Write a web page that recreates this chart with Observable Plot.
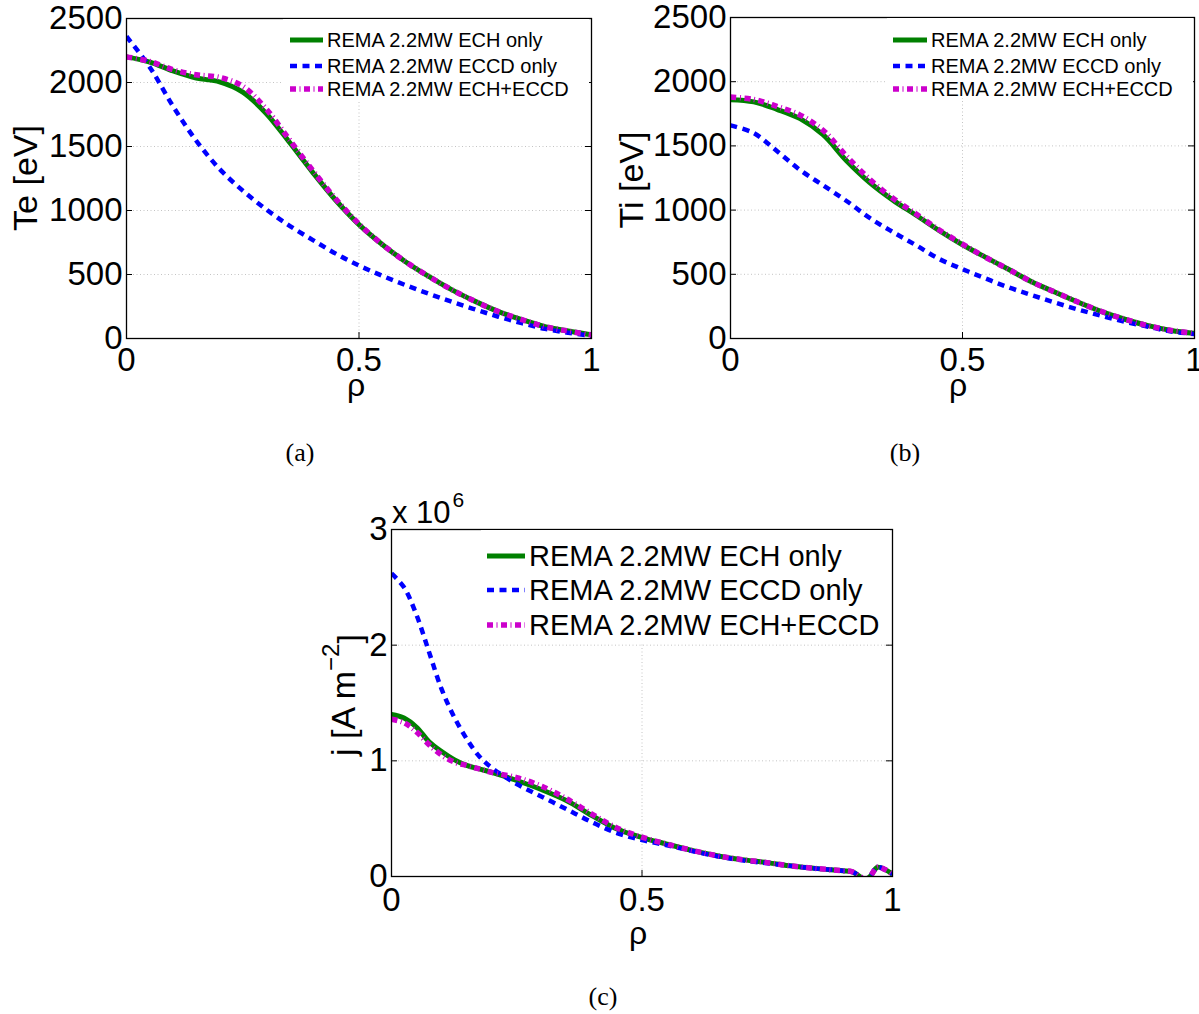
<!DOCTYPE html>
<html><head><meta charset="utf-8">
<script src="https://cdn.jsdelivr.net/npm/d3@7"></script>
<script src="https://cdn.jsdelivr.net/npm/@observablehq/plot@0.6"></script>
<style>
body{margin:0;background:#fff;}
#wrap{position:relative;width:1199px;height:1014px;overflow:hidden;background:#fff;}
.panel{position:absolute;}
.cap{position:absolute;font-family:"Liberation Serif","DejaVu Serif",serif;font-size:26px;transform:translate(-50%,-50%);line-height:1;}
</style></head><body><div id="wrap"></div>
<script>
// ---- data ----
const seriesNames = ["REMA 2.2MW ECH only", "REMA 2.2MW ECCD only", "REMA 2.2MW ECH+ECCD"];
const rhoAB = [0,0.05,0.1,0.15,0.2,0.25,0.3,0.35,0.4,0.45,0.5,0.55,0.6,0.65,0.7,0.75,0.8,0.85,0.9,0.95,1];
const teECH  = [2200,2160,2090,2035,2005,1925,1760,1535,1300,1080,890,735,600,485,380,290,210,148,92,58,28];
const teECCD = [2360,2120,1815,1545,1325,1155,1010,882,771,663,570,490,417,350,286,227,170,120,75,45,20];
const teBoth = [2200,2165,2100,2060,2040,1970,1795,1555,1315,1090,895,735,600,485,380,290,210,148,92,58,28];
const tiECH  = [1860,1843,1785,1712,1585,1385,1215,1078,960,840,730,632,537,440,360,282,210,150,100,63,40];
const tiECCD = [1660,1600,1460,1312,1192,1071,939,829,726,619,540,467,397,337,279,225,176,131,92,55,35];
const tiBoth = [1880,1862,1808,1740,1620,1420,1240,1092,970,845,735,632,537,440,360,282,210,150,100,63,40];
const rhoJ = [0,0.025,0.05,0.075,0.1,0.125,0.15,0.175,0.2,0.25,0.3,0.35,0.4,0.45,0.5,0.55,0.6,0.65,0.7,0.75,0.8,0.85,0.9,0.92,0.935,0.945,0.955,0.97,0.985,1];
const jECH  = [1.40,1.37,1.29,1.165,1.08,1.01,0.96,0.93,0.90,0.83,0.75,0.655,0.527,0.41,0.337,0.28,0.226,0.18,0.146,0.12,0.09,0.068,0.05,0.04,0.0,-0.03,0.0,0.08,0.06,0.02];
const jECCD = [2.62,2.50,2.26,1.94,1.62,1.38,1.19,1.04,0.94,0.80,0.69,0.58,0.47,0.375,0.315,0.27,0.22,0.175,0.14,0.115,0.09,0.068,0.05,0.04,0.0,-0.03,0.0,0.08,0.06,0.02];
const jBoth = [1.36,1.33,1.25,1.14,1.05,0.99,0.96,0.93,0.90,0.855,0.78,0.67,0.54,0.42,0.34,0.28,0.226,0.18,0.146,0.12,0.09,0.068,0.05,0.04,0.0,-0.03,0.0,0.08,0.06,0.02];
const xTicks = [0, 0.5, 1];
const teTicks = [0,500,1000,1500,2000,2500];
const jTicks = [0,1,2,3];

// ---- styles ----
const FONT = "'Liberation Sans', Arial, Helvetica, sans-serif";
const lineStyles = [
  {stroke: "#008000", strokeWidth: 5, strokeDasharray: null},
  {stroke: "#0000ff", strokeWidth: 4.5, strokeDasharray: "7,5.5"},
  {stroke: "#cc00cc", strokeWidth: 5.5, strokeDasharray: "6,3.5,1,3.5"}
];
const wrap = document.getElementById("wrap");

function panel(o) {
  const m = o.margin;
  const iw = o.width - m.left - m.right, ih = o.height - m.top - m.bottom;
  const lines = o.series.map((s, k) => Plot.line(
    s.y.map((v, i) => ({x: s.x[i], y: v})),
    {x: "x", y: "y", ...Object.fromEntries(Object.entries(lineStyles[k]).filter(([, v]) => v != null)),
     strokeLinecap: "butt", curve: "catmull-rom", clip: true}));
  const gridStyle = {stroke: "#c4c4c4", strokeOpacity: 1, strokeDasharray: "1,2.5"};
  const svg = Plot.plot({
    width: o.width, height: o.height,
    marginLeft: m.left, marginRight: m.right, marginTop: m.top, marginBottom: m.bottom,
    x: {domain: [0, 1]}, y: {domain: o.yDomain},
    style: `font-family:${FONT};font-size:33px;overflow:visible;background:transparent;color:black;`,
    marks: [
      Plot.gridX([0.5], gridStyle),
      Plot.gridY(o.yTicks.slice(1, -1), gridStyle),
      ...lines,
      Plot.tickY(o.yTicks, {y: d => d, insetRight: iw - 6, stroke: "black"}),
      Plot.tickY(o.yTicks, {y: d => d, insetLeft: iw - 6, stroke: "black"}),
      Plot.tickX(xTicks, {x: d => d, insetTop: ih - 6, stroke: "black"}),
      Plot.tickX(xTicks, {x: d => d, insetBottom: ih - 6, stroke: "black"}),
      Plot.axisX(xTicks, {tickSize: 0, tickPadding: o.xPad, label: null, tickFormat: d => String(d)}),
      Plot.axisY(o.yTicks, {tickSize: 0, tickPadding: 4, label: null, tickFormat: d => String(d)}),
      Plot.frame({stroke: "black", strokeWidth: 1.3})
    ]
  });
  svg.classList.add("panel");
  svg.style.left = o.left + "px";
  svg.style.top = o.top + "px";
  const s = d3.select(svg);
  // legend
  const L = o.legend;
  s.append("rect").attr("x", L.box[0]).attr("y", L.box[1]).attr("width", L.box[2]).attr("height", L.box[3]).attr("fill", "white");
  seriesNames.forEach((name, k) => {
    const y = L.rows[k];
    const st = lineStyles[k];
    s.append("line").attr("x1", L.x0).attr("x2", L.x1).attr("y1", y).attr("y2", y)
      .attr("stroke", st.stroke).attr("stroke-width", st.strokeWidth)
      .attr("stroke-dasharray", st.strokeDasharray);
    s.append("text").attr("x", L.tx).attr("y", y).attr("dy", "0.36em").attr("text-anchor", "start")
      .attr("font-size", L.fs).attr("font-family", FONT).attr("fill", "black").text(name);
  });
  // y label
  const yl = s.append("text").attr("transform", `translate(${o.ylab.x},${o.ylab.y}) rotate(-90)`)
    .attr("text-anchor", "middle").attr("dominant-baseline", "central")
    .attr("font-size", 34).attr("font-family", FONT).attr("fill", "black");
  if (o.ylab.sup) {
    yl.append("tspan").text(o.ylab.text);
    yl.append("tspan").attr("dy", "-0.55em").attr("font-size", 24).text(o.ylab.sup);
    yl.append("tspan").attr("dy", "0.55em").text("]");
  } else yl.text(o.ylab.text);
  // x label
  s.append("text").attr("x", o.xlab.x).attr("y", o.xlab.y).attr("text-anchor", "middle")
    .attr("font-size", 32).attr("font-family", FONT).attr("fill", "black").text("ρ");
  if (o.mult) {
    const t = s.append("text").attr("x", o.mult.x).attr("y", o.mult.y).attr("text-anchor", "start")
      .attr("font-size", 31).attr("font-family", FONT).attr("fill", "black");
    t.append("tspan").text("x 10");
    t.append("tspan").attr("dy", "-0.75em").attr("dx", "2").attr("font-size", 21).text("6");
  }
  wrap.appendChild(svg);
}

panel({
  left: 0, top: 0, width: 600, height: 400,
  margin: {left: 126, right: 9, top: 18, bottom: 62}, xPad: 9,
  yDomain: [0, 2500], yTicks: teTicks,
  series: [{x: rhoAB, y: teECH}, {x: rhoAB, y: teECCD}, {x: rhoAB, y: teBoth}],
  legend: {box: [283, 19, 306, 81], rows: [40, 66, 89], x0: 290, x1: 323, tx: 327, fs: 20},
  ylab: {x: 25, y: 178, text: "Te [eV]"},
  xlab: {x: 356, y: 396}
});
panel({
  left: 600, top: 0, width: 599, height: 400,
  margin: {left: 130, right: 5, top: 17, bottom: 62}, xPad: 9,
  yDomain: [0, 2500], yTicks: teTicks,
  series: [{x: rhoAB, y: tiECH}, {x: rhoAB, y: tiECCD}, {x: rhoAB, y: tiBoth}],
  legend: {box: [287, 18, 306, 80], rows: [40, 66, 89], x0: 293, x1: 327, tx: 331, fs: 20},
  ylab: {x: 31, y: 180, text: "Ti [eV]"},
  xlab: {x: 358, y: 396}
});
panel({
  left: 300, top: 490, width: 600, height: 420,
  margin: {left: 91, right: 8, top: 39, bottom: 34}, xPad: 11,
  yDomain: [0, 3], yTicks: jTicks,
  series: [{x: rhoJ, y: jECH}, {x: rhoJ, y: jECCD}, {x: rhoJ, y: jBoth}],
  legend: {box: [181, 40, 409, 112], rows: [66, 100, 135], x0: 187, x1: 225, tx: 229, fs: 29},
  ylab: {x: 43, y: 205, text: "j [A m", sup: "−2"},
  xlab: {x: 338, y: 454},
  mult: {x: 92, y: 33}
});

[["(a)", 300, 453], ["(b)", 905, 453], ["(c)", 603, 997]].forEach(([t, x, y]) => {
  const d = document.createElement("div");
  d.className = "cap"; d.textContent = t;
  d.style.left = x + "px"; d.style.top = y + "px";
  wrap.appendChild(d);
});
</script>
</body></html>
